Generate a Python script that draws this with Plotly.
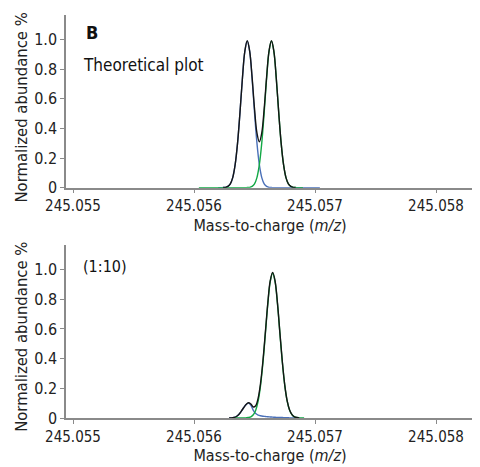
import plotly.graph_objects as go

# scan window shown on both panels
mz_lo = 245.0549421
mz_hi = 245.0583140
mz_ticks = [245.055, 245.056, 245.057, 245.058]
ab_ticks = [0, 0.2, 0.4, 0.6, 0.8, 1.0]
ab_labels = ['0', '0.2', '0.4', '0.6', '0.8', '1.0']

# theoretical plot (panel B, top)
top_mz = [245.05604, 245.05606, 245.05608, 245.05610, 245.05612, 245.05614, 245.05616,
          245.05618, 245.05620, 245.05622, 245.05624, 245.05626, 245.05628, 245.05630,
          245.05632, 245.05634, 245.05636, 245.05638, 245.05640, 245.05642, 245.05644,
          245.05646, 245.05648, 245.05650, 245.05652, 245.05654, 245.05656, 245.05658,
          245.05660, 245.05662, 245.05664, 245.05666, 245.05668, 245.05670, 245.05672,
          245.05674, 245.05676, 245.05678, 245.05680, 245.05682, 245.05684, 245.05686,
          245.05688, 245.05690, 245.05692, 245.05694, 245.05696, 245.05698, 245.05700,
          245.05702, 245.05704]
top_blue = [None] * 8 + [0, 0, 0.001, 0.002, 0.009, 0.026, 0.068, 0.155, 0.302, 0.508,
                         0.737, 0.920, 0.990, 0.920, 0.737, 0.508, 0.302, 0.155, 0.068,
                         0.026, 0.009, 0.002, 0.001] + [0] * 20
top_green = [0] * 20 + [0.001, 0.002, 0.009, 0.026, 0.068, 0.155, 0.302, 0.508, 0.737,
                        0.920, 0.990, 0.920, 0.737, 0.508, 0.302, 0.155, 0.068, 0.026,
                        0.009, 0.002, 0.001, 0, 0, 0] + [None] * 7
top_sum = [None] * 10 + [0.001, 0.002, 0.009, 0.026, 0.068, 0.155, 0.302, 0.508, 0.737,
                         0.920, 0.991, 0.922, 0.746, 0.534, 0.370, 0.310, 0.370, 0.534,
                         0.746, 0.922, 0.991, 0.920, 0.737, 0.508, 0.302, 0.155, 0.068,
                         0.026, 0.009, 0.002, 0.001] + [None] * 10

# measured (1:10), bottom
bot_mz = [245.05621, 245.05623, 245.05625, 245.05627, 245.05629, 245.05631, 245.05633,
          245.05635, 245.05637, 245.05639, 245.05641, 245.05643, 245.05645, 245.05647,
          245.05649, 245.05651, 245.05653, 245.05655, 245.05657, 245.05659, 245.05661,
          245.05663, 245.05665, 245.05667, 245.05669, 245.05671, 245.05673, 245.05675,
          245.05677, 245.05679, 245.05681, 245.05683, 245.05685, 245.05687, 245.05689,
          245.05691]
bot_blue = [None] * 4 + [0, 0.001, 0.004, 0.010, 0.024, 0.045, 0.069, 0.090, 0.100, 0.086,
                         0.052, 0.030, 0.020, 0.015, 0.012, 0.010, 0.008, 0.007, 0.006,
                         0.005, 0.004, 0.003, 0.003, 0.002, 0.002, 0.001, 0.001, 0, 0] + [None] * 3
bot_green = [None] * 6 + [0, 0, 0, 0, 0, 0.001, 0.003, 0.008, 0.022, 0.053, 0.114, 0.220,
                          0.376, 0.570, 0.768, 0.918, 0.975, 0.918, 0.768, 0.570, 0.376,
                          0.220, 0.114, 0.053, 0.022, 0.008, 0.003, 0.001, 0, 0]
bot_sum = [None] * 4 + [0, 0.001, 0.004, 0.010, 0.024, 0.045, 0.069, 0.091, 0.103, 0.094,
                        0.074, 0.083, 0.134, 0.235, 0.388, 0.580, 0.776, 0.925, 0.981,
                        0.923, 0.772, 0.573, 0.379, 0.222, 0.116, 0.054, 0.023, 0.008,
                        0.003, 0.001] + [None] * 2

FONT = 'DejaVu Sans Condensed, DejaVu Sans, sans-serif'
BLUE = '#4a70b8'
GREEN = '#12a845'
BLACK = '#151515'
AXIS = '#8a8a8a'
TXT = '#222'

fig = go.Figure()

panels = [
    (top_mz, top_blue, top_green, top_sum, 'x', 'y'),
    (bot_mz, bot_blue, bot_green, bot_sum, 'x2', 'y2'),
]
for mz, blue, green, total, xa, ya in panels:
    fig.add_trace(go.Scatter(x=mz, y=blue, mode='lines', xaxis=xa, yaxis=ya,
                             line=dict(color=BLUE, width=1.4, shape='spline'),
                             connectgaps=False, showlegend=False))
    fig.add_trace(go.Scatter(x=mz, y=green, mode='lines', xaxis=xa, yaxis=ya,
                             line=dict(color=GREEN, width=1.4, shape='spline'),
                             connectgaps=False, showlegend=False))
    fig.add_trace(go.Scatter(x=mz, y=total, mode='lines', xaxis=xa, yaxis=ya,
                             line=dict(color=BLACK, width=1.4, shape='spline'),
                             connectgaps=False, showlegend=False))

xaxis_style = dict(
    range=[mz_lo, mz_hi], tickvals=mz_ticks, ticktext=[f'{v:.3f}' for v in mz_ticks],
    showline=True, linecolor=AXIS, linewidth=1.5, ticks='outside', ticklen=4,
    tickcolor=AXIS, showgrid=False, zeroline=False, automargin=False,
    tickfont=dict(family=FONT, size=15, color=TXT),
    title=dict(text='Mass-to-charge (<i>m/z</i>)', font=dict(family=FONT, size=16, color=TXT),
               standoff=5),
)
yaxis_style = dict(
    range=[0, 1.165], tickvals=ab_ticks, ticktext=ab_labels,
    showline=True, linecolor=AXIS, linewidth=1.5, ticks='outside', ticklen=4,
    tickcolor=AXIS, showgrid=False, zeroline=False, automargin=False,
    tickfont=dict(family=FONT, size=16, color=TXT),
)

ytitle = 'Normalized abundance %'

# the page adds an 8 px body margin, so the figure is 8 px smaller on each side
fig.update_layout(
    width=472, height=459,
    margin=dict(l=58, r=6, t=7, b=49, autoexpand=False),
    paper_bgcolor='white', plot_bgcolor='white',
    xaxis=dict(xaxis_style, domain=[0, 1], anchor='y'),
    yaxis=dict(yaxis_style, domain=[0.5715, 1], anchor='x'),
    xaxis2=dict(xaxis_style, domain=[0, 1], anchor='y2'),
    yaxis2=dict(yaxis_style, domain=[0, 0.429], anchor='x2'),
    annotations=[
        dict(text=ytitle, xref='paper', yref='y domain', x=-0.108, y=0.464,
             xanchor='center', yanchor='middle', textangle=-90, showarrow=False,
             font=dict(family=FONT, size=16.5, color=TXT)),
        dict(text=ytitle, xref='paper', yref='y2 domain', x=-0.108, y=0.469,
             xanchor='center', yanchor='middle', textangle=-90, showarrow=False,
             font=dict(family=FONT, size=16.5, color=TXT)),
        dict(text='<b>B</b>', xref='x domain', yref='y domain', x=0.045, y=0.899,
             xanchor='left', yanchor='middle', showarrow=False,
             font=dict(family=FONT, size=18, color='#111')),
        dict(text='Theoretical plot', xref='x domain', yref='y domain', x=0.036, y=0.71,
             xanchor='left', yanchor='middle', showarrow=False,
             font=dict(family=FONT, size=17, color='#111')),
        dict(text='(1:10)', xref='x2 domain', yref='y2 domain', x=0.036, y=0.876,
             xanchor='left', yanchor='middle', showarrow=False,
             font=dict(family=FONT, size=16, color='#111')),
    ],
)

fig.write_html('out.html')
